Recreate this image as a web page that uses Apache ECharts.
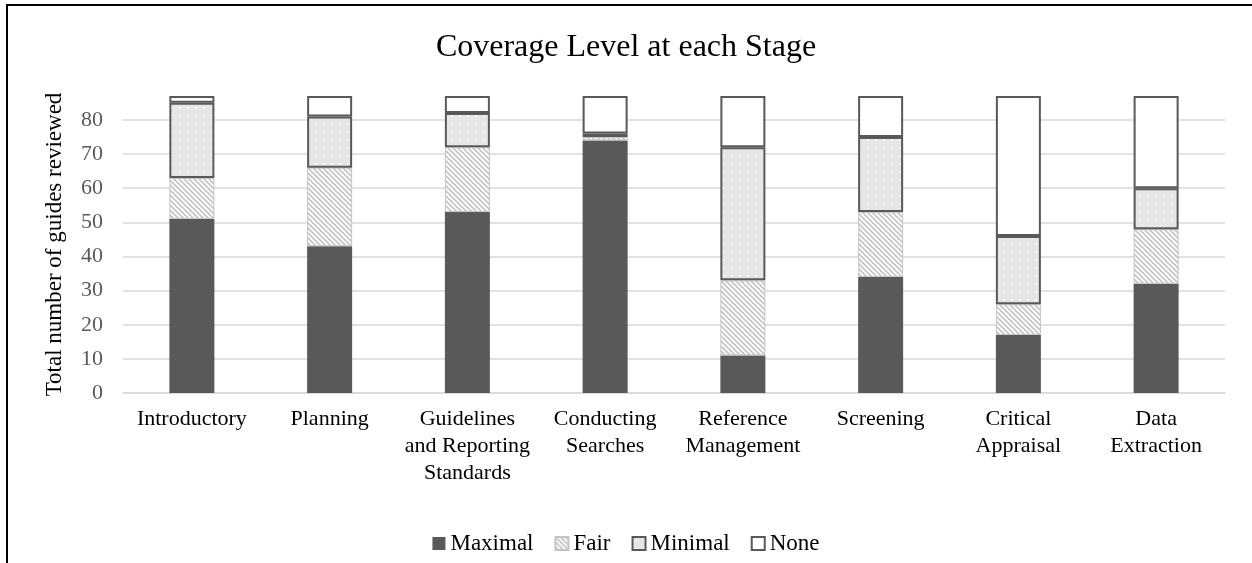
<!DOCTYPE html>
<html>
<head>
<meta charset="utf-8">
<script src="https://cdn.jsdelivr.net/npm/echarts@6/dist/echarts.min.js"></script>
<style>
  html, body { margin: 0; padding: 0; background: #fff; overflow: hidden; }
  #frame { position: absolute; left: 6px; top: 4px; width: 1260px; height: 580px; border: 2px solid #000; box-sizing: border-box; }
  #chart { position: absolute; left: 0; top: 0; width: 1252px; height: 563px; }
</style>
</head>
<body>
<div id="frame"></div>
<div id="chart"></div>
<script>
// data
var stages = ['Introductory', 'Planning', 'Guidelines\nand Reporting\nStandards', 'Conducting\nSearches',
  'Reference\nManagement', 'Screening', 'Critical\nAppraisal', 'Data\nExtraction']
var maximal = [51, 43, 53, 74, 11, 34, 17, 32]
var fair = [12, 23, 19, 1, 22, 19, 9, 16]
var minimal = [22, 15, 10, 1, 39, 22, 20, 12]
var none = [2, 6, 5, 11, 15, 12, 41, 27]
var yTicks = [0, 10, 20, 30, 40, 50, 60, 70, 80]

var serif = "'Times New Roman', 'Liberation Serif', serif"

// fill patterns (hatch for Fair, dots for Minimal)
function hatchPattern() {
  var c = document.createElement('canvas')
  c.width = 5
  c.height = 5
  var ctx = c.getContext('2d')
  ctx.fillStyle = '#ffffff'
  ctx.fillRect(0, 0, 5, 5)
  ctx.strokeStyle = '#c4c4c4'
  ctx.lineWidth = 1.6
  ctx.beginPath()
  ctx.moveTo(-1, -1); ctx.lineTo(6, 6)
  ctx.moveTo(-1, 4); ctx.lineTo(1, 6)
  ctx.moveTo(4, -1); ctx.lineTo(6, 1)
  ctx.stroke()
  return { image: c, repeat: 'repeat' }
}
function dotPattern() {
  var c = document.createElement('canvas')
  c.width = 8
  c.height = 8
  var ctx = c.getContext('2d')
  ctx.fillStyle = '#e7e6e6'
  ctx.fillRect(0, 0, 8, 8)
  ctx.fillStyle = '#ffffff'
  ctx.fillRect(3, 3, 1.5, 1.5)
  return { image: c, repeat: 'repeat' }
}

var chart = echarts.init(document.getElementById('chart'), null, { renderer: 'canvas' })

function makeSeries(name, data, style) {
  return {
    name: name,
    type: 'bar',
    stack: 'total',
    barWidth: 45,
    data: data,
    itemStyle: style,
    emphasis: { disabled: true }
  }
}

chart.setOption({
  animation: false,
  backgroundColor: 'transparent',
  title: {
    text: 'Coverage Level at each Stage',
    left: 'center',
    top: 27,
    textStyle: { fontFamily: serif, fontSize: 32, fontWeight: 'normal', color: '#000' }
  },
  legend: {
    bottom: 3,
    left: 'center',
    icon: 'rect',
    itemWidth: 13,
    itemHeight: 13,
    itemGap: 21,
    textStyle: { fontFamily: serif, fontSize: 23, color: '#000' },
    data: ['Maximal', 'Fair', 'Minimal', 'None']
  },
  grid: {
    left: 123,
    right: 27,
    top: 96,
    bottom: 170,
    containLabel: false,
    outerBoundsMode: 'none'
  },
  xAxis: {
    type: 'category',
    data: stages,
    axisLine: { lineStyle: { color: '#d9d9d9', width: 1.5 } },
    axisTick: { show: false },
    axisLabel: {
      fontFamily: serif,
      fontSize: 22,
      lineHeight: 27,
      color: '#000',
      margin: 13,
      interval: 0,
      align: 'center'
    }
  },
  yAxis: {
    type: 'value',
    min: yTicks[0],
    max: 87,
    interval: yTicks[1] - yTicks[0],
    name: 'Total number of guides reviewed',
    nameLocation: 'middle',
    nameGap: 57,
    nameTextStyle: { fontFamily: serif, fontSize: 23, color: '#000' },
    axisLine: { show: false },
    axisTick: { show: false },
    axisLabel: {
      fontFamily: serif,
      fontSize: 22,
      color: '#595959',
      margin: 20,
      showMaxLabel: false
    },
    splitLine: { showMaxLine: false, lineStyle: { color: '#d9d9d9', width: 1.5 } }
  },
  series: [
    makeSeries('Maximal', maximal, { color: '#595959' }),
    makeSeries('Fair', fair, { color: hatchPattern(), borderColor: '#c4c4c4', borderWidth: 1 }),
    makeSeries('Minimal', minimal, { color: dotPattern(), borderColor: '#595959', borderWidth: 2 }),
    makeSeries('None', none, { color: '#ffffff', borderColor: '#595959', borderWidth: 2 })
  ]
})
</script>
</body>
</html>
